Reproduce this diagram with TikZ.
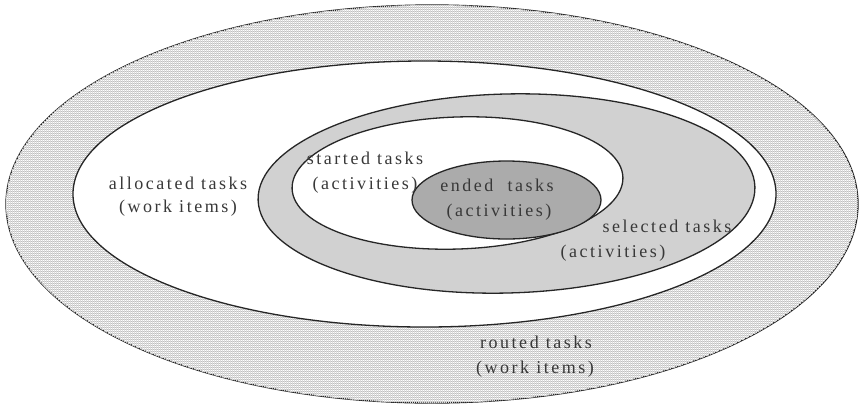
\documentclass[tikz,border=0pt]{standalone}
\usepackage{fontspec}
\setmainfont{Liberation Serif}[LetterSpace=14]
\usetikzlibrary{shapes.geometric,patterns.meta}
\begin{document}
\begin{tikzpicture}[x=1bp,y=-1bp,
  ring/.style={ellipse, draw=black!85, line width=1.3bp, inner sep=0pt},
  lbl/.style={text=black!78, font=\fontsize{18bp}{21bp}\selectfont, inner sep=0pt, anchor=center},
  gridfill/.style={fill=white,
    postaction={pattern={Lines[distance=2bp,line width=0.7bp,angle=0]}, pattern color=black!25},
    postaction={pattern={Lines[distance=2bp,line width=0.5bp,angle=90]}, pattern color=black!14}}
]
\useasboundingbox (0,0) rectangle (861,407);
% outer: routed tasks
\node[ring, gridfill, minimum width=852bp, minimum height=398bp] (routed) at (432,204) {};
% allocated
\node[ring, fill=white, minimum width=703bp, minimum height=266bp] (allocated) at (424.5,194) {};
% selected
\node[ring, fill=black!18, minimum width=497bp, minimum height=199bp, rotate=1.5] (selected) at (506.5,193.5) {};
% started
\node[ring, fill=white, minimum width=331bp, minimum height=132bp, rotate=2] (started) at (457.5,183) {};
% ended
\node[ring, fill=black!33, minimum width=189bp, minimum height=78bp] (ended) at (506.5,200) {};
% labels
\node[lbl] (allocT) at (178,183) {allocated tasks};
\node[lbl] (allocW) at (178,208) {(work items)};
\node[lbl] (startT) at (365,158) {started tasks};
\node[lbl] (startA) at (365,185) {(activities)};
\node[lbl] (endT) at (497,185) {ended\ \ tasks};
\node[lbl] (endA) at (499,212) {(activities)};
\node[lbl] (selT) at (667,226) {selected tasks};
\node[lbl] (selA) at (613,253) {(activities)};
\node[lbl] (routT) at (536,342) {routed tasks};
\node[lbl] (routW) at (535,369) {(work items)};
\end{tikzpicture}
\end{document}
